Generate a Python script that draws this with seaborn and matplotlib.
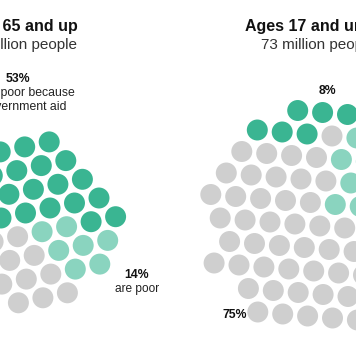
import numpy as np
import pandas as pd
import matplotlib
matplotlib.use("Agg")
import matplotlib.pyplot as plt
import seaborn as sns

# ---------------- data ----------------
titles = ["Ages 65 and up", "Ages 17 and under"]
populations_millions = [46, 73]          # one dot per million people
pct_aid_lifted = [53, 8]                 # not poor because of government aid
pct_poor = [14, 17]                      # are poor
pct_rest = [33, 75]                      # everyone else
aid_label = "are not poor because\nof government aid"
poor_label = "are poor"

# ---------------- style / layout ----------------
colors = {"aid": "#3AB592", "poor": "#8AD4BF", "rest": "#CFCFCF"}
centers = [(27, 219), (320, 222)]
anchors = [(50, 208), (270, 222)]
vec_a = [(24.5, -5.0), (24.9, 2.0)]
vec_b = [(7.9, -23.7), (15.5, -21.5)]
aid_rule = ["pie", "top"]
poor_start_deg = [95, 14]
DOT_SIZE = 228

sns.set_theme(style="white")
plt.rcParams["font.family"] = ["Liberation Sans", "DejaVu Sans"]


def counts(total, pcts):
    raw = np.array(pcts, dtype=float) / 100 * total
    base = np.floor(raw).astype(int)
    rem = total - base.sum()
    order = np.argsort(-(raw - base), kind="stable")
    base[order[:rem]] += 1
    return base


def compass(rel, start):
    return (np.degrees(np.arctan2(rel[:, 0], -rel[:, 1])) - start) % 360


def layout(k):
    total = populations_millions[k]
    n_aid, n_poor, n_rest = counts(total, [pct_aid_lifted[k], pct_poor[k], pct_rest[k]])
    a = np.array(vec_a[k])
    b = np.array(vec_b[k])
    ii, jj = np.meshgrid(np.arange(-12, 13), np.arange(-12, 13))
    pts = np.array(anchors[k]) + ii.reshape(-1, 1) * a + jj.reshape(-1, 1) * b
    c = np.array(centers[k])
    d = np.hypot(pts[:, 0] - c[0], pts[:, 1] - c[1])
    pts = pts[np.argsort(d, kind="stable")[:total]]
    cat = np.empty(total, dtype=object)
    if aid_rule[k] == "top":
        order_y = np.argsort(pts[:, 1], kind="stable")
        cat[order_y[:n_aid]] = "aid"
        remaining = order_y[n_aid:]
    else:
        remaining = np.arange(total)
    ang = compass(pts[remaining] - c, poor_start_deg[k])
    o = remaining[np.argsort(ang, kind="stable")]
    cat[o[:n_poor]] = "poor"
    cat[o[n_poor:n_poor + n_rest]] = "rest"
    cat[o[n_poor + n_rest:]] = "aid"
    return pd.DataFrame({"x": pts[:, 0], "y": pts[:, 1], "category": cat, "chart": k})


dots = pd.concat([layout(0), layout(1)], ignore_index=True)

fig = plt.figure(figsize=(3.56, 3.64), dpi=100)
ax = fig.add_axes([0, 0, 1, 1])
sns.scatterplot(data=dots, x="x", y="y", hue="category", palette=colors,
                s=DOT_SIZE, linewidth=0, edgecolor="none", legend=False, ax=ax)
ax.set_xlim(0, 356)
ax.set_ylim(364, 0)
ax.set_axis_off()

title_x = [18, 317]
sub_x = [20, 318]
for k in range(2):
    ax.text(title_x[k], 27, titles[k], ha="center", va="center",
            fontsize=11.5, fontweight="bold", color="#111111")
    ax.text(sub_x[k], 45, f"{populations_millions[k]} million people",
            ha="center", va="center", fontsize=11, color="#333333")

# left annotations
ax.text(18, 79, f"{pct_aid_lifted[0]}%", ha="center", va="center",
        fontsize=8.8, fontweight="bold", color="#111111")
ax.text(17, 100, aid_label, ha="center", va="center", fontsize=8.8,
        color="#222222", linespacing=1.15)
ax.text(137, 275, f"{pct_poor[0]}%", ha="center", va="center",
        fontsize=8.8, fontweight="bold", color="#111111")
ax.text(137, 289, poor_label, ha="center", va="center", fontsize=8.6,
        color="#222222")

# right annotations
ax.text(327, 91, f"{pct_aid_lifted[1]}%", ha="center", va="center",
        fontsize=8.8, fontweight="bold", color="#111111")
ax.text(235, 315, f"{pct_rest[1]}%", ha="center", va="center",
        fontsize=8.8, fontweight="bold", color="#111111")

fig.savefig("out.png", dpi=100, facecolor="white")
